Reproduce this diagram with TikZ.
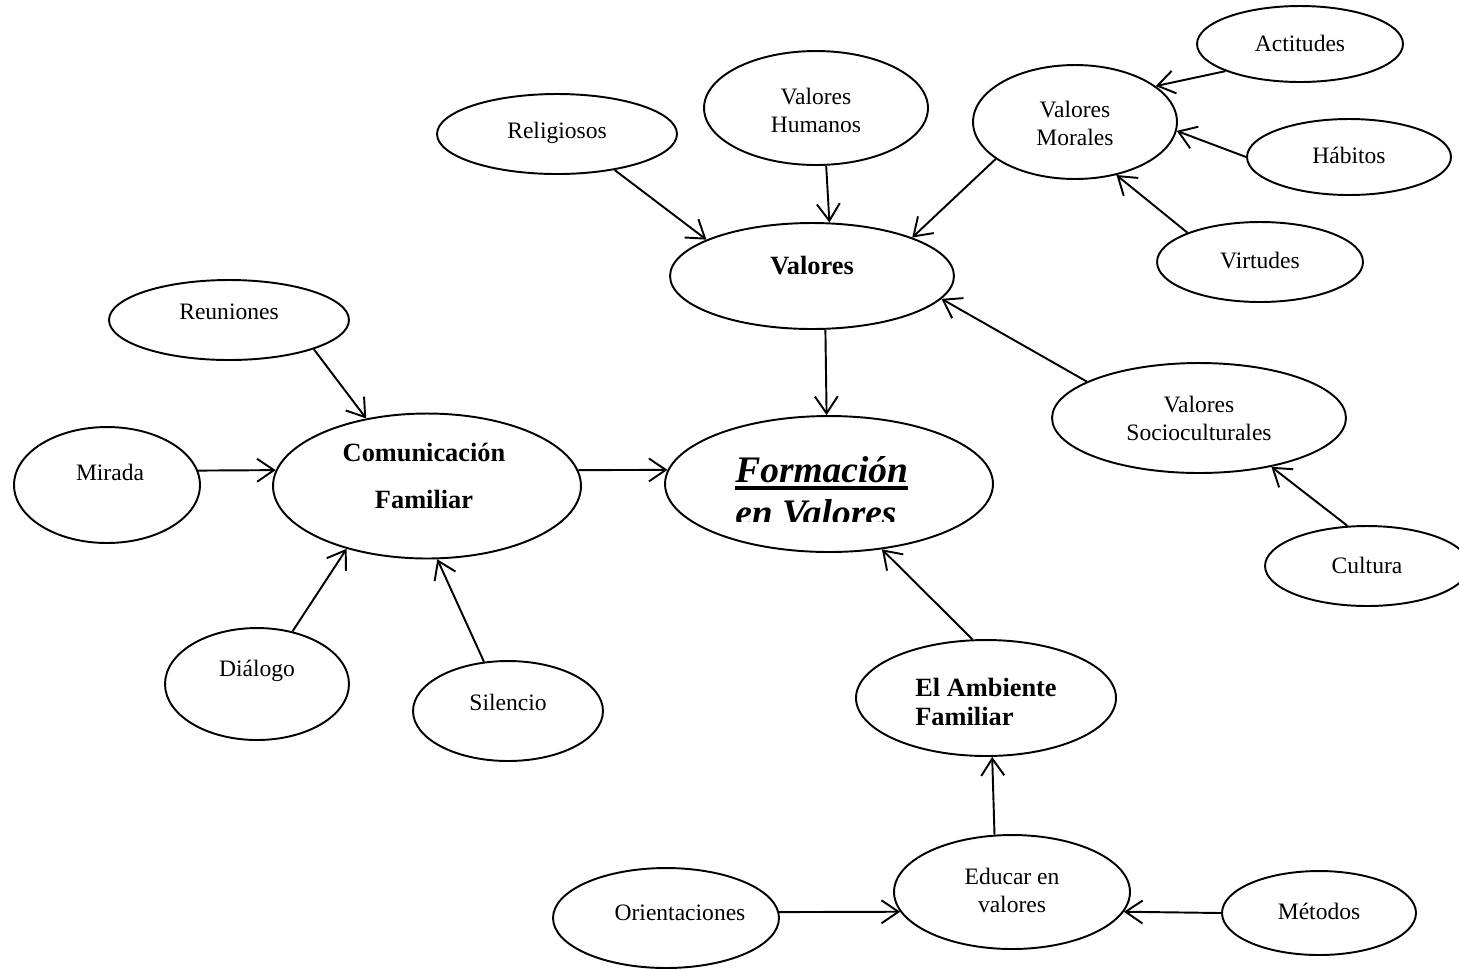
\documentclass[tikz,border=0pt]{standalone}
\usepackage{fontspec}
\setmainfont{Liberation Serif}
\usetikzlibrary{shapes.geometric,arrows.meta}

\newcommand{\thickul}[1]{\setbox0\hbox{#1}\rlap{\rule[-4.2pt]{\wd0}{1.9pt}}#1}

\begin{document}
\begin{tikzpicture}[x=0.02cm,y=-0.02cm,
  oval/.style={draw, ellipse, line width=1.1pt, inner sep=0pt},
  txt/.style={font=\fontsize{13.4}{15.9}\selectfont, align=center},
  bold/.style={font=\fontsize{15}{17}\selectfont\bfseries, align=center},
  arr/.style={-{Straight Barb[length=0.34cm,width=0.46cm]}, line width=1.1pt}]
  \useasboundingbox (0,0) rectangle (1459,968);
  \clip (0,0) rectangle (1459,968);

  % ellipses
  \node[oval, minimum width=4.12cm, minimum height=1.52cm] (acti) at (1300,44) {};
  \node[oval, minimum width=4.08cm, minimum height=2.28cm] (mor) at (1075,122) {};
  \node[oval, minimum width=4.08cm, minimum height=1.52cm] (hab) at (1349,157) {};
  \node[oval, minimum width=4.12cm, minimum height=1.60cm] (virt) at (1260,262) {};
  \node[oval, minimum width=4.80cm, minimum height=1.60cm] (rel) at (557,134) {};
  \node[oval, minimum width=4.48cm, minimum height=2.28cm] (hum) at (816,108) {};
  \node[oval, minimum width=5.68cm, minimum height=2.12cm] (val) at (812,276) {};
  \node[oval, minimum width=5.88cm, minimum height=2.20cm] (soc) at (1199,418) {};
  \node[oval, minimum width=4.08cm, minimum height=1.60cm] (cult) at (1367,566) {};
  \node[oval, minimum width=4.80cm, minimum height=1.60cm] (reu) at (229,320) {};
  \node[oval, minimum width=3.72cm, minimum height=2.32cm] (mir) at (107,485) {};
  \node[oval, minimum width=6.16cm, minimum height=2.90cm] (com) at (427,486) {};
  \node[oval, minimum width=6.56cm, minimum height=2.72cm] (form) at (829,484) {};
  \node[oval, minimum width=3.68cm, minimum height=2.24cm] (dia) at (257,684) {};
  \node[oval, minimum width=3.80cm, minimum height=2.00cm] (sil) at (508,711) {};
  \node[oval, minimum width=5.20cm, minimum height=2.32cm] (amb) at (986,698) {};
  \node[oval, minimum width=4.72cm, minimum height=2.28cm] (edu) at (1012,892) {};
  \node[oval, minimum width=4.52cm, minimum height=2.00cm] (ori) at (666,918) {};
  \node[oval, minimum width=3.88cm, minimum height=1.68cm] (met) at (1319,913) {};

  % texts
  \node[txt] (acti-t) at (1300,43) {Actitudes};
  \node[txt] (mor-t) at (1075,123) {Valores\\Morales};
  \node[txt] (hab-t) at (1349,155) {Hábitos};
  \node[txt] (virt-t) at (1260,260) {Virtudes};
  \node[txt] (rel-t) at (557,133) {Religiosos};
  \node[txt] (hum-t) at (816,110) {Valores\\Humanos};
  \node[bold] (val-t) at (812,266) {Valores};
  \node[txt] (soc-t) at (1199,418) {Valores\\Socioculturales};
  \node[txt] (cult-t) at (1367,565) {Cultura};
  \node[txt] (reu-t) at (229,312) {Reuniones};
  \node[txt] (mir-t) at (110,472) {Mirada};
  \node[bold, font=\fontsize{15}{27}\selectfont\bfseries] (com-t) at (424,476) {Comunicación\\Familiar};
  \node[txt] (dia-t) at (257,671) {Diálogo};
  \node[txt] (sil-t) at (508,702) {Silencio};
  \node[bold, align=left] (amb-t) at (986,702) {El Ambiente\\Familiar};
  \node[txt] (edu-t) at (1012,890) {Educar en\\valores};
  \node[txt] (ori-t) at (680,913) {Orientaciones};
  \node[txt] (met-t) at (1319,911) {Métodos};
  \begin{scope}
    \clip (650,430) rectangle (1000,521);
    \node[anchor=base west, inner sep=0pt, align=left,
      font=\fontsize{21.3}{24.4}\selectfont\bfseries\itshape] (form-t) at (735,525)
      {\thickul{Formación}\\en Valores};
  \end{scope}

  % arrows
  \draw[arr] (acti.200) -- (mor.24);
  \draw[arr] (hab.180) -- (mor.355);
  \draw[arr] (virt.158) -- (mor.308);
  \draw[arr] (mor.205) -- (val.21);
  \draw[arr] (hum.280) -- (val.72);
  \draw[arr] (rel.328) -- (val.161);
  \draw[arr] (soc.162) -- (val.350);
  \draw[arr] (cult.116) -- (soc.326);
  \draw[arr] (val.284) -- (form.92);
  \draw[arr] (reu.341) -- (com.132);
  \draw[arr] (mir.9) -- (com.174);
  \draw[arr] (com.6) -- (form.175);
  \draw[arr] (dia.56) -- (com.218);
  \draw[arr] (sil.116) -- (com.278);
  \draw[arr] (amb.103) -- (form.309);
  \draw[arr] (edu.107) -- (amb.276);
  \draw[arr] (ori.3) -- (edu.190);
  \draw[arr] (met.180) -- (edu.350);
\end{tikzpicture}
\end{document}
